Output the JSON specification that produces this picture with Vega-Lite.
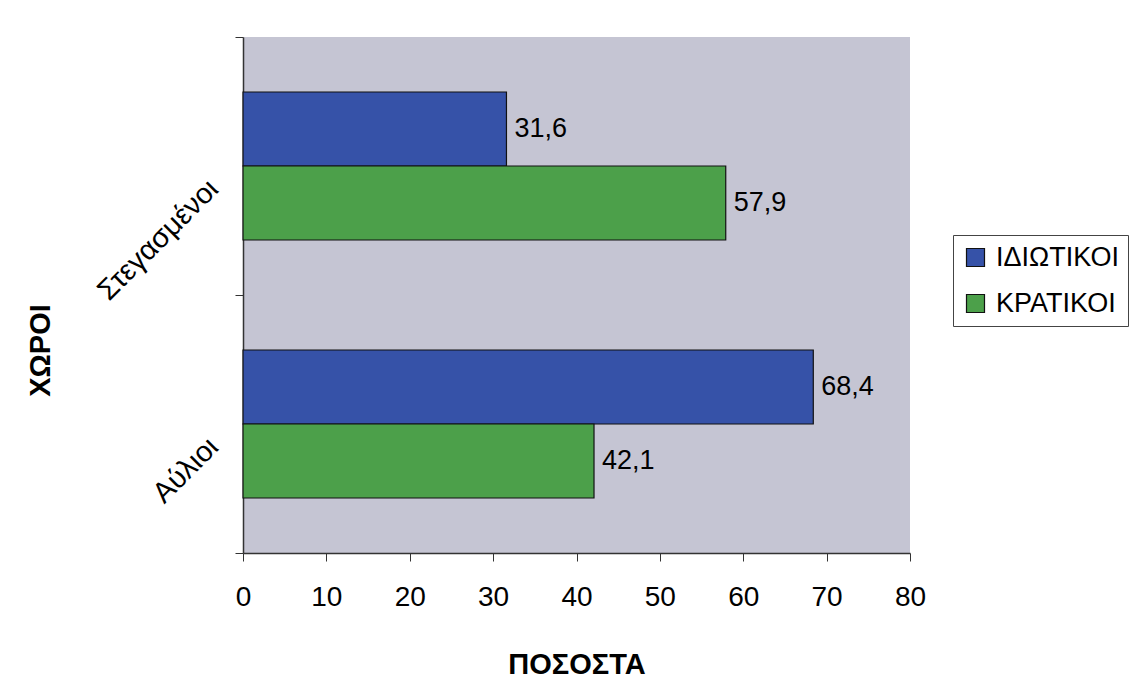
{
  "$schema": "https://vega.github.io/schema/vega-lite/v6.json",
  "autosize": "none",
  "width": 667,
  "height": 516,
  "padding": {"left": 243, "top": 37, "right": 227, "bottom": 135},
  "background": "white",
  "config": {
    "font": "Liberation Sans",
    "view": {"fill": "#C5C5D3", "stroke": null}
  },
  "data": {
    "values": [
      {"xoros": "Στεγασμένοι", "typos": "ΙΔΙΩΤΙΚΟΙ", "pososto": 31.6, "label": "31,6"},
      {"xoros": "Στεγασμένοι", "typos": "ΚΡΑΤΙΚΟΙ", "pososto": 57.9, "label": "57,9"},
      {"xoros": "Αύλιοι", "typos": "ΙΔΙΩΤΙΚΟΙ", "pososto": 68.4, "label": "68,4"},
      {"xoros": "Αύλιοι", "typos": "ΚΡΑΤΙΚΟΙ", "pososto": 42.1, "label": "42,1"}
    ]
  },
  "encoding": {
    "y": {
      "field": "xoros",
      "type": "nominal",
      "sort": ["Στεγασμένοι", "Αύλιοι"],
      "scale": {"paddingInner": 0, "paddingOuter": 0},
      "axis": {
        "title": "ΧΩΡΟΙ",
        "titleFont": "Liberation Sans",
        "titleFontSize": 29,
        "titleFontWeight": "bold",
        "titleColor": "black",
        "titleAngle": -90,
        "titleX": -203,
        "titleY": 313,
        "titleAlign": "center",
        "titleBaseline": "middle",
        "labelAngle": -45,
        "labelAlign": "right",
        "labelBaseline": "middle",
        "labelFontSize": 29,
        "labelColor": "black",
        "labelPadding": 22,
        "labelOffset": 18,
        "tickBand": "extent",
        "tickSize": 8,
        "tickColor": "#333",
        "domainColor": "#333",
        "domainWidth": 1.5
      }
    },
    "yOffset": {"field": "typos", "sort": ["ΙΔΙΩΤΙΚΟΙ", "ΚΡΑΤΙΚΟΙ"], "scale": {"paddingInner": 0, "paddingOuter": 0.743}},
    "x": {
      "field": "pososto",
      "type": "quantitative",
      "scale": {"domain": [0, 80], "nice": false},
      "axis": {
        "title": "ΠΟΣΟΣΤΑ",
        "titleFont": "Liberation Sans",
        "titleFontSize": 29,
        "titleFontWeight": "bold",
        "titleColor": "black",
        "titlePadding": 39,
        "values": [0, 10, 20, 30, 40, 50, 60, 70, 80],
        "grid": false,
        "labelFontSize": 28,
        "labelColor": "black",
        "labelPadding": 22,
        "tickSize": 8,
        "tickColor": "#333",
        "domainColor": "#333",
        "domainWidth": 1.5,
        "labelFlush": false
      }
    }
  },
  "layer": [
    {
      "mark": {"type": "bar", "stroke": "#111", "strokeWidth": 1.2},
      "encoding": {
        "color": {
          "field": "typos",
          "type": "nominal",
          "scale": {"domain": ["ΙΔΙΩΤΙΚΟΙ", "ΚΡΑΤΙΚΟΙ"], "range": ["#3652A8", "#4CA04A"]},
          "legend": {
            "title": null,
            "orient": "none",
            "legendX": 710,
            "legendY": 198,
            "symbolType": "square",
            "symbolSize": 324,
            "symbolStrokeColor": "#111",
            "symbolStrokeWidth": 1.2,
            "labelFontSize": 27,
            "labelColor": "black",
            "labelFont": "Liberation Sans",
            "labelOffset": 7,
            "rowPadding": 18,
            "padding": 9,
            "strokeColor": "#444",
            "fillColor": "white"
          }
        }
      }
    },
    {
      "mark": {"type": "text", "align": "left", "baseline": "middle", "dx": 8, "fontSize": 27, "color": "black"},
      "encoding": {"text": {"field": "label"}}
    }
  ]
}
